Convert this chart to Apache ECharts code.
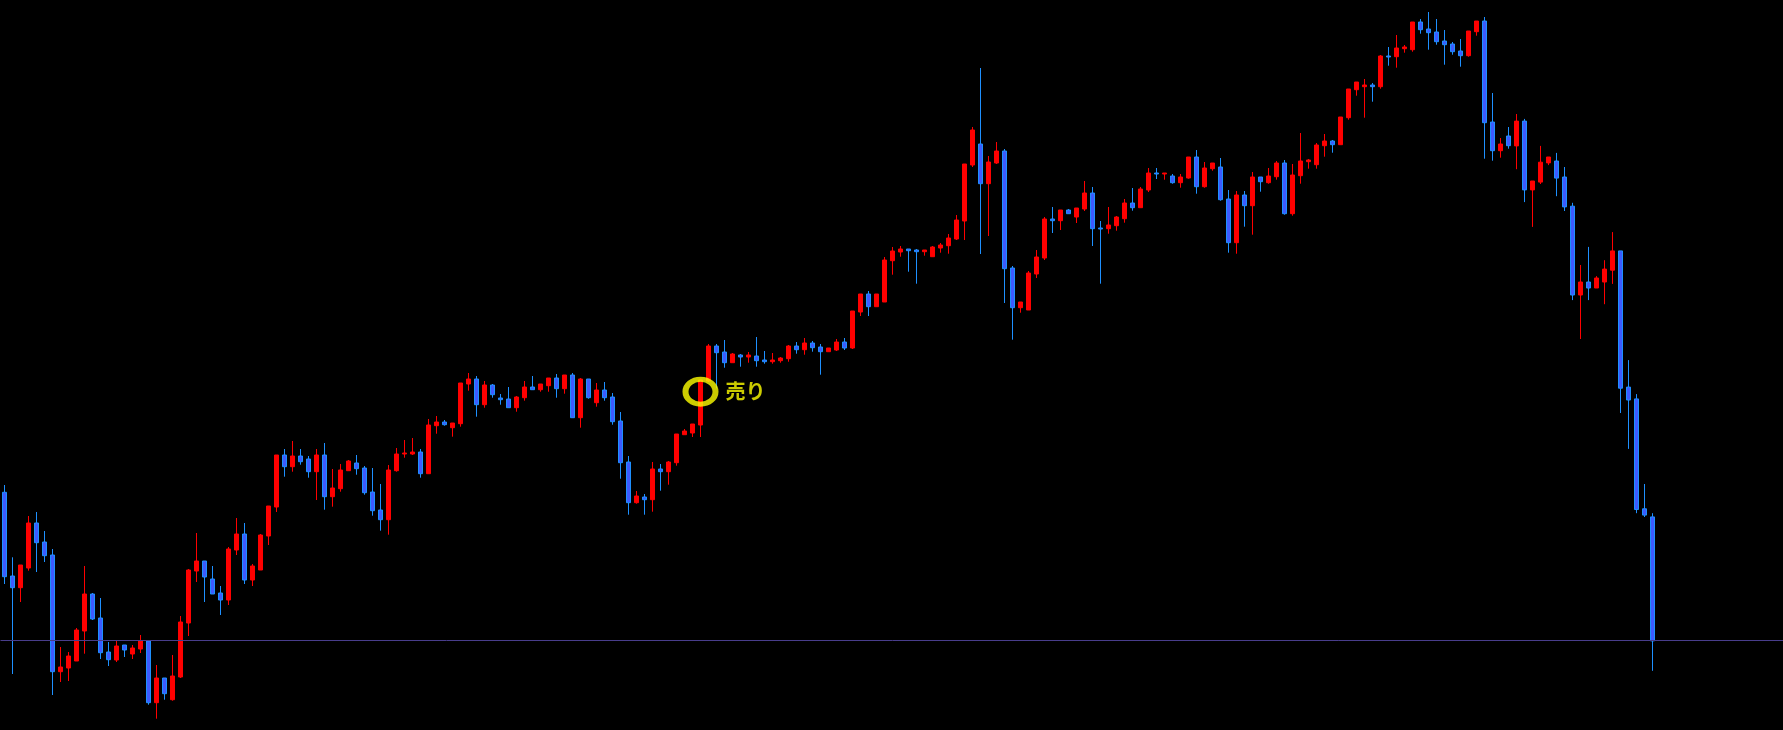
<!DOCTYPE html>
<html>
<head>
<meta charset="utf-8">
<script src="https://cdn.jsdelivr.net/npm/echarts@6/dist/echarts.min.js"></script>
<style>
html,body{margin:0;padding:0;background:#000;}
#chart{width:1783px;height:730px;}
</style>
</head>
<body>
<div id="chart"></div>
<script>
// Candle values (price units; no axis shown in the original)
const open = [237.7,154,142.3,162,207,188,175,58.3,62,69,
99,136,112,78,70,85,76,81,89,27.3,
52,30.3,53,107,159,169,151,137,130,180,
196,150,160,194,223,275,263.3,274,271,258.3,
275,233.3,241.3,259.3,267,262,238,220,210.3,259.3,
276,276,278,256.3,304.3,308,302.3,306.3,346,351,
325.3,345,332,331,322.3,332.3,343,340.3,344.3,352,
341.3,355,312.3,351,327.3,340,333,309,268,227.3,
233,230.3,261,258.3,267.3,295.3,297,305,349,384,
378,367.3,375,373,374,370,368.3,369.3,371.3,384,
380.3,387,383,378.3,380,388,382,418,436,423.3,
428,469.3,478,481,480,478.3,473.3,482,484.3,491,
509,565,586,546.3,567,579,462,422.3,420,456,
472,511,509.3,520,513,521,537,502,501.3,504.3,
511.3,527,522.3,540,557,556,554,547.3,552,573,
543.3,561.3,563,531,487.3,535,524.3,553,547.3,553.3,
567,516.3,554.3,568.3,565.3,584.3,589,585.3,612.3,640.3,
643.3,645,643.3,674,673.3,681.3,680.3,708,701,698,
689,686,679,674.3,698.3,709,608,579.3,594,584.1,
608.9,540.1,547.9,567.1,569,553,523.8,435,448,442,
448,459.8,479.1,342.9,331.1,221.2,213.1];

const close = [153.3,142.3,165,207,187.3,174.3,58.3,63,74,100,
136,111,77.3,70.3,84,80,82,89,27.3,52,
36.3,54,108,160,169,153,136,130,181,196,
150,164,195,224,275,263.3,274,268.3,258.3,275,
233.3,242,260,269,261.3,237.3,219.3,210.3,260,276,
277,278,256.3,305,308,305.3,307,347,351,325.3,
345,335.3,330.3,322.3,333,343,340.3,346,352,341.3,
355,312.3,351,332.3,340,332.3,308.3,267.3,227.3,234,
230.3,261,258.3,268,296,299,306,350,384,377.3,
367.3,376,373,375,369.3,368.3,370,372,384,380.3,
387,382.3,378.3,382,388,382,419,436,423.3,436,
470,479,481,479.3,478.3,480,483,485,492,510,
566,600,546.3,568,579,461.3,422.3,428,457,473,
511,509.3,520,516.3,522,537,501.3,501,505,513,
527,522.3,541,557,556,557,547.3,553,573,543.3,
562,567,530.3,487.3,535,524.3,553,548.3,554,567,
516.3,555,569,570,585,589,585.3,613,641,648,
645,643.3,674,673,682,683,708,700.3,697.3,688.3,
685.3,678.3,674.3,699,709,607.3,579.3,586,584.3,608.9,
540.1,549,567.8,573,551.9,523.1,435,448,442,452,
460.9,479.1,341.8,330,220.5,214.9,89.1];

const low = [146,56,128,159.3,158,168,35,48,49,69,
76.3,110,71,64,68,73,71,77,25.3,11.3,
30.3,29.3,52,94,148,128,136,115,125,175,
146,144,160,185,218,253.3,258.3,265.3,252.3,230,
220.3,223.3,238.3,259.3,255.3,235.3,214.3,199.3,195.3,258.3,
272.3,275,252.3,256.3,296.3,304.3,293.3,303.3,339.3,313.3,
322.3,332.3,325.3,322.3,318.3,329.3,340.3,338.3,338.3,332.3,
336.3,312.3,302.3,331.3,323.3,329.3,305.3,251.3,215.3,226.3,
215.3,218.3,239.3,245.3,264.3,295.3,293,293,348,341.7,
362.3,367.3,363.3,367.3,363.3,366.3,366.3,367.3,368.3,376.3,
375.3,378.3,355.3,378.3,379,380,381,414,414,423.3,
428,455.3,473.3,458.3,446.3,474.3,473.3,477.3,476.3,490,
490,563,476,494,566,427,390.3,417.3,420,452,
470,497,500,516.3,507,519,484,446.3,496.3,499.3,
507.3,519.3,522.3,538,551,550.3,546.3,542.3,551.3,536.3,
542.3,559.3,529.3,477.3,476.3,503.3,495.3,538.3,546.3,550.3,
515.3,514.3,546.3,561.3,561.3,573.3,577.3,585.3,610.3,634.3,
612.3,628.3,641.3,664.3,662.3,677.3,678.3,696.3,680.3,685.3,
665.3,675.3,663.3,673.3,694.3,571.3,569.3,572.3,581.3,560.8,
527.9,503.1,546,564.9,533.8,519,429.9,391,429.9,442,
425.8,446.1,317,281.1,216.8,213,59.2];

const high = [245,172.7,165,214,218,199,181,83,78,102,
164,137,132,88,89,85,85,95,90,65,
52,75,114,161,197,169,164,144,183,212,
207,166,196,224,275,281,289,281,274,281,
287,261,266,270,275,264,262,246,265,282,
290,292,281,311,314,310,307,347,357,354,
349,346,336,343,334,349,354,346,352,356,
355,357,352,351,347,348,337,318,274,239,
236,268,266,269,296,301,306,350,386,386,
390,377,376,378,393,379,377,373,385,388,
392,389,386,382,391,392,419,436,439,436,
473,483,484,481,481,480,484,487,496,515,
566,603,662,574,588,581,464,428,459,480,
513,523,520,521,522,549,543,509,523,514,
531,542,543,562,562,557,556,556,573,580,
568,567,572,540,539,539,558,553,562,569,
570,566,597,571,587,596,590,613,641,648,
651,647,675,683,695,685,708,711,718,711,
700,688,691,699,709,713,637,592,603,616,
611.1,549,584.1,573,577.1,563,527.2,465,483.1,453.9,
469.8,497.9,479.1,369.9,335.9,246,216.8];

// horizontal price line and the sell annotation
const lineLevel = 89.7;
const sellSignal = { index: 87, price: 338.3, text: '売り' };
// empty bars kept at the right edge (chart shift)
const rightShiftBars = 16;

const categories = [];
for (let i = 0; i < open.length + rightShiftBars; i++) categories.push(i < open.length ? String(i + 1) : '');
const ohlc = open.map((o, i) => [o, close[i], low[i], high[i]]);

const chart = echarts.init(document.getElementById('chart'), null, { renderer: 'canvas' });
chart.setOption({
  backgroundColor: '#000000',
  animation: false,
  grid: { left: 0.5, top: 0, width: categories.length * 8, height: 730, outerBoundsMode: 'none' },
  xAxis: { type: 'category', data: categories, boundaryGap: true, show: false },
  yAxis: { type: 'value', min: 0, max: 730, show: false, scale: false },
  series: [
    {
      type: 'candlestick',
      data: ohlc,
      barWidth: 4,
      itemStyle: {
        color: '#ff0000',
        borderColor: '#ff0000',
        color0: '#3d5afe',
        borderColor0: '#1e90ff',
        borderWidth: 1
      },
      markLine: {
        silent: true,
        symbol: ['none', 'none'],
        label: { show: false },
        lineStyle: { color: '#483d8b', width: 1, type: 'solid' },
        data: [{ yAxis: lineLevel }]
      },
      z: 2
    },
    {
      type: 'scatter',
      data: [[sellSignal.index, sellSignal.price]],
      symbol: 'circle',
      symbolSize: [30, 25],
      itemStyle: { color: 'rgba(0,0,0,0)', borderColor: '#ffff00', borderWidth: 5.5 },
      label: {
        show: true,
        position: 'right',
        distance: 7,
        formatter: sellSignal.text,
        color: '#ffff00',
        fontSize: 20,
        fontWeight: 'bold',
        fontFamily: 'Noto Sans CJK JP'
      },
      z: 5
    }
  ]
});
</script>
</body>
</html>
